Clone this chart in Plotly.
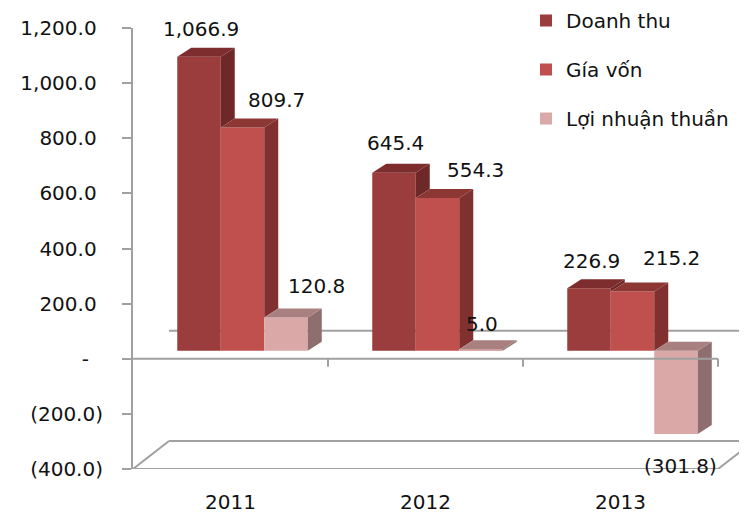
import plotly.graph_objects as go

# ---------------- data ----------------
years = ["2011", "2012", "2013"]
series_names = ["Doanh thu", "Gía vốn", "Lợi nhuận thuần"]
doanh_thu = [1066.9, 645.4, 226.9]
gia_von = [809.7, 554.3, 215.2]
loi_nhuan = [120.8, 5.0, -301.8]
y_tick_values = [-400, -200, 0, 200, 400, 600, 800, 1000, 1200]
y_tick_labels = ["(400.0)", "(200.0)", "-", "200.0", "400.0", "600.0",
                 "800.0", "1,000.0", "1,200.0"]

series_values = [doanh_thu, gia_von, loi_nhuan]

# ---------------- style ----------------
FRONT = ["#9B3D3D", "#C0504D", "#D9A8A7"]
SIDE = ["#6E2828", "#80302E", "#8E6E6E"]
TOP = ["#7D2D2D", "#8C3734", "#A8807F"]
AXIS_COLOR = "#A0A0A0"
TEXT_COLOR = "#111111"
FONT = "DejaVu Sans"
FS = 20

# label nudges in pixels (x right, y away from bar end)
LABEL_NX = [[2, 1, 2], [34, 38, 39], [30, 1, 4]]
LABEL_NY = [[28, 30, 27], [28, 28, 33], [31, 25, 32]]

# the page body has an 8px default margin: size the figure to fill the rest
BODY = 8
W, H = 747 - BODY, 518 - BODY
ML, MR, MT = 133 - BODY, 0, 28 - BODY
PH = 441
MB = H - MT - PH
PW = W - ML - MR
Y_MIN, Y_MAX = -400, 1200
PXU = PH / (Y_MAX - Y_MIN)     # pixels per value unit
CAT_PX = 195                   # pixels per category
X_MAX = PW / CAT_PX


def px_x(p):
    return p / CAT_PX


def px_y(p):
    return p / PXU


BASE_SHIFT = px_y(8)           # bars stand slightly behind the front zero line
GROUP_SHIFT = px_x(12)
BW = px_x(43.5)
DX, DY = px_x(14), px_y(9)     # bar depth
BACK_DX, BACK_DY = px_x(36), px_y(28)   # wall depth


def fmt(v):
    s = f"{abs(v):,.1f}"
    return f"({s})" if v < 0 else s


fig = go.Figure()

# front faces as bars
for k, (name, vals) in enumerate(zip(series_names, series_values)):
    fig.add_trace(go.Bar(
        x=[i + 0.5 + GROUP_SHIFT for i in range(len(years))],
        y=vals,
        width=BW,
        offset=-1.5 * BW + k * BW,
        name=name,
        marker=dict(color=FRONT[k], line=dict(width=0)),
        xaxis="x", yaxis="y2",
        legendgroup=name,
        hoverinfo="skip",
    ))

# 3D faces (side, top) computed from the data
for k, vals in enumerate(series_values):
    side_x, side_y, top_x, top_y = [], [], [], []
    for i, v in enumerate(vals):
        x0 = i + 0.5 + GROUP_SHIFT - 1.5 * BW + k * BW
        x1 = x0 + BW
        top = max(v, 0)
        bot = min(v, 0)
        nxt = max(series_values[k + 1][i], 0) if k + 1 < len(series_values) else None
        # top face
        if nxt is not None and nxt > top:
            tx = [x0, x1, x1, x0 + DX, x0]
        else:
            tx = [x0, x1, x1 + DX, x0 + DX, x0]
        ty = [top, top, top + DY, top + DY, top]
        top_x += tx + [None]
        top_y += ty + [None]
        # side face (visible part)
        lower = bot if nxt is None else max(bot, nxt)
        if top > lower:
            side_x += [x1, x1, x1 + DX, x1 + DX, x1, None]
            side_y += [lower, top, top + DY, lower + DY, lower, None]
    for xs, ys, col in ((side_x, side_y, SIDE[k]), (top_x, top_y, TOP[k])):
        fig.add_trace(go.Scatter(
            x=xs, y=ys, mode="lines", fill="toself", fillcolor=col,
            line=dict(width=0, color=col), xaxis="x", yaxis="y2",
            showlegend=False, hoverinfo="skip",
        ))

# data labels
annotations = []
for k, vals in enumerate(series_values):
    for i, v in enumerate(vals):
        xc = i + 0.5 + GROUP_SHIFT - 1.5 * BW + k * BW + BW / 2
        sign = -1 if v < 0 else 1
        annotations.append(dict(
            x=xc, y=v, xref="x", yref="y2", text=fmt(v), showarrow=False,
            xshift=LABEL_NX[k][i], yshift=sign * LABEL_NY[k][i],
            font=dict(family=FONT, size=FS, color=TEXT_COLOR),
            xanchor="center", yanchor="middle",
        ))

# walls / floor / front zero line
line = dict(color=AXIS_COLOR, width=2)
n = len(years)
shapes = [
    dict(type="line", xref="x", yref="y", x0=BACK_DX, x1=X_MAX,
         y0=BACK_DY, y1=BACK_DY, line=line, layer="below"),
    dict(type="line", xref="x", yref="y", x0=0, x1=n,
         y0=Y_MIN, y1=Y_MIN, line=line, layer="below"),
    dict(type="line", xref="x", yref="y", x0=0, x1=BACK_DX,
         y0=Y_MIN, y1=Y_MIN + BACK_DY, line=line, layer="below"),
    dict(type="line", xref="x", yref="y", x0=n, x1=n + BACK_DX,
         y0=Y_MIN, y1=Y_MIN + BACK_DY, line=line, layer="below"),
    dict(type="line", xref="x", yref="y", x0=BACK_DX, x1=X_MAX,
         y0=Y_MIN + BACK_DY, y1=Y_MIN + BACK_DY, line=line, layer="below"),
    dict(type="line", xref="x", yref="y", x0=0, x1=n,
         y0=0, y1=0, line=line, layer="above"),
]
for i in range(1, n + 1):
    shapes.append(dict(type="line", xref="x", yref="y", x0=i, x1=i,
                       y0=0, y1=-px_y(8), line=line, layer="above"))

# accounting-style tick text padding
tick_text = []
for t in y_tick_labels:
    if t == "-":
        tick_text.append("-\u2002\u2009")
    elif t.startswith("("):
        tick_text.append(t)
    else:
        tick_text.append(t + "\u00a0")

fig.update_layout(
    width=W, height=H,
    margin=dict(l=ML, r=MR, t=MT, b=MB, pad=0, autoexpand=False),
    paper_bgcolor="white", plot_bgcolor="white",
    font=dict(family=FONT, size=FS, color=TEXT_COLOR),
    barmode="overlay",
    xaxis=dict(range=[0, X_MAX], tickvals=[i + 0.5 for i in range(n)],
               ticktext=years, showgrid=False, zeroline=False, showline=False,
               ticks="", ticklabelstandoff=19, fixedrange=True, automargin=False),
    yaxis=dict(range=[Y_MIN, Y_MAX], tickvals=y_tick_values, ticktext=tick_text,
               showgrid=False, zeroline=False, showline=True,
               linecolor=AXIS_COLOR, linewidth=2, ticks="outside", ticklen=9,
               tickwidth=2, tickcolor=AXIS_COLOR, ticklabelstandoff=15,
               fixedrange=True, automargin=False),
    yaxis2=dict(range=[Y_MIN - BASE_SHIFT, Y_MAX - BASE_SHIFT], overlaying="y",
                visible=False, fixedrange=True),
    legend=dict(xref="paper", yref="paper", x=(526 - BODY - ML) / PW,
                y=1 + (MT + 7) / PH, xanchor="left", yanchor="top",
                traceorder="grouped", tracegroupgap=20,
                font=dict(family=FONT, size=FS, color=TEXT_COLOR),
                bgcolor="rgba(0,0,0,0)"),
    shapes=shapes,
    annotations=annotations,
    showlegend=True,
)

fig.write_html("out.html")
